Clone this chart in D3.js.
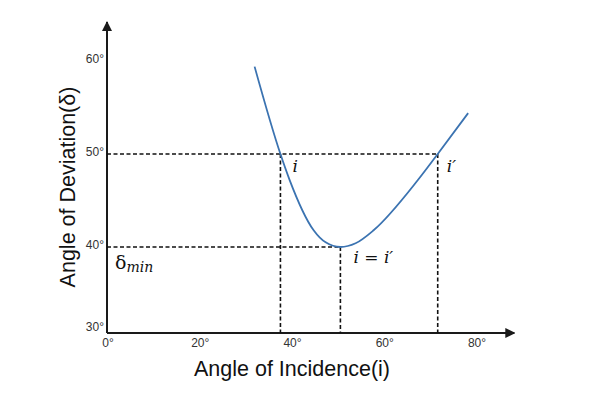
<!DOCTYPE html>
<html>
<head>
<meta charset="utf-8">
<script src="https://cdn.jsdelivr.net/npm/d3@7"></script>
<style>
  body { margin: 0; background: #fff; }
</style>
</head>
<body>
<div id="my_dataviz"></div>
<script>
// curve: angle of incidence -> angle of deviation
var incidence = [32.0, 37.6, 39.6, 44.8, 47.4, 50.6, 53.9, 57.8, 67.4, 71.7, 78.3];
var deviation = [59.4, 50.0, 47.2, 41.8, 40.5, 40.0, 40.4, 41.8, 47.2, 50.0, 54.4];

var xTicks = [0, 20, 40, 60, 80];
var yTicks = [30, 40, 50, 60];

// marked points
var iVal = 37.6, iPrimeVal = 71.7, iMinVal = 50.6;
var devEqual = 50, devMin = 40;

var width = 600, height = 395;
var sans = "'Liberation Sans', Arial, sans-serif";
var serif = "'DejaVu Serif', 'Liberation Serif', serif";

var svg = d3.select("#my_dataviz")
  .append("svg")
    .attr("width", width)
    .attr("height", height)
    .style("font-family", sans);

// scales (hand drawn original: 30 sits on the axis, so clamp)
var x = d3.scaleLinear().domain([0, 80]).range([107, 476]);
var y = d3.scaleLinear().domain([30.75, 64.2]).range([333, 22]).clamp(true);

// arrow heads
var defs = svg.append("defs");
defs.append("marker")
  .attr("id", "arrow")
  .attr("viewBox", "0 0 10 10")
  .attr("refX", 9).attr("refY", 5)
  .attr("markerWidth", 5).attr("markerHeight", 5)
  .attr("markerUnits", "strokeWidth")
  .attr("orient", "auto")
  .append("path")
    .attr("d", "M0,0L10,5L0,10Z")
    .attr("fill", "#1a1a1a");

// axes
svg.append("line")
  .attr("x1", x(0)).attr("y1", y(30.75))
  .attr("x2", x(88.3)).attr("y2", y(30.75))
  .attr("stroke", "#1a1a1a").attr("stroke-width", 2)
  .attr("marker-end", "url(#arrow)");
svg.append("line")
  .attr("x1", x(0)).attr("y1", y(30.75))
  .attr("x2", x(0)).attr("y2", y(64.2))
  .attr("stroke", "#1a1a1a").attr("stroke-width", 2)
  .attr("marker-end", "url(#arrow)");

// tick labels
svg.append("g").selectAll("text")
  .data(xTicks)
  .enter().append("text")
    .attr("x", function(d) { return x(d) + 1; })
    .attr("y", 347)
    .attr("text-anchor", "middle")
    .attr("font-size", 12)
    .attr("fill", "#333")
    .text(function(d) { return d + "°"; });

svg.append("g").selectAll("text")
  .data(yTicks)
  .enter().append("text")
    .attr("x", 104)
    .attr("y", function(d) { return y(d) + 2 + (d == 30 ? -4 : 0); })
    .attr("text-anchor", "end")
    .attr("font-size", 12)
    .attr("fill", "#333")
    .text(function(d) { return d + "°"; });

// dashed guide lines
var guides = [
  [0, devEqual, iPrimeVal, devEqual],
  [0, devMin, iMinVal, devMin],
  [iVal, devEqual, iVal, 30.75],
  [iMinVal, devMin, iMinVal, 30.75],
  [iPrimeVal, devEqual, iPrimeVal, 30.75]
];
svg.append("g").selectAll("line")
  .data(guides)
  .enter().append("line")
    .attr("x1", function(d) { return x(d[0]); })
    .attr("y1", function(d) { return y(d[1]); })
    .attr("x2", function(d) { return x(d[2]); })
    .attr("y2", function(d) { return y(d[3]); })
    .attr("stroke", "#111")
    .attr("stroke-width", 1.6)
    .attr("stroke-dasharray", "4,2.5");

// the curve
var line = d3.line()
  .x(function(d, i) { return x(incidence[i]); })
  .y(function(d, i) { return y(deviation[i]); })
  .curve(d3.curveMonotoneX);

svg.append("path")
  .datum(incidence)
  .attr("fill", "none")
  .attr("stroke", "#3b73b1")
  .attr("stroke-width", 1.8)
  .attr("d", line);

// point labels
function mathLabel(px, py, txt) {
  return svg.append("text")
    .attr("x", px).attr("y", py)
    .style("font-family", serif).style("font-style", "italic")
    .attr("font-size", 17).attr("fill", "#111")
    .text(txt);
}
mathLabel(x(iVal) + 12, y(devEqual) + 18, "i");
mathLabel(x(iPrimeVal) + 9, y(devEqual) + 18, "i′");
mathLabel(x(iMinVal) + 13, y(devMin) + 16, "i = i′");

var dm = svg.append("text")
  .attr("x", x(0) + 8).attr("y", y(devMin) + 22)
  .style("font-family", serif)
  .attr("font-size", 19).attr("fill", "#111");
dm.append("tspan").text("δ");
dm.append("tspan")
  .style("font-style", "italic").attr("font-size", 14)
  .attr("dy", 3)
  .text("min");

// axis titles
svg.append("text")
  .attr("x", 292)
  .attr("y", 376)
  .attr("text-anchor", "middle")
  .attr("font-size", 21.5)
  .attr("fill", "#111")
  .text("Angle of Incidence(i)");

svg.append("text")
  .attr("transform", "translate(75,187) rotate(-90)")
  .attr("text-anchor", "middle")
  .attr("font-size", 21.5)
  .attr("fill", "#111")
  .text("Angle of Deviation(δ)");
</script>
</body>
</html>
